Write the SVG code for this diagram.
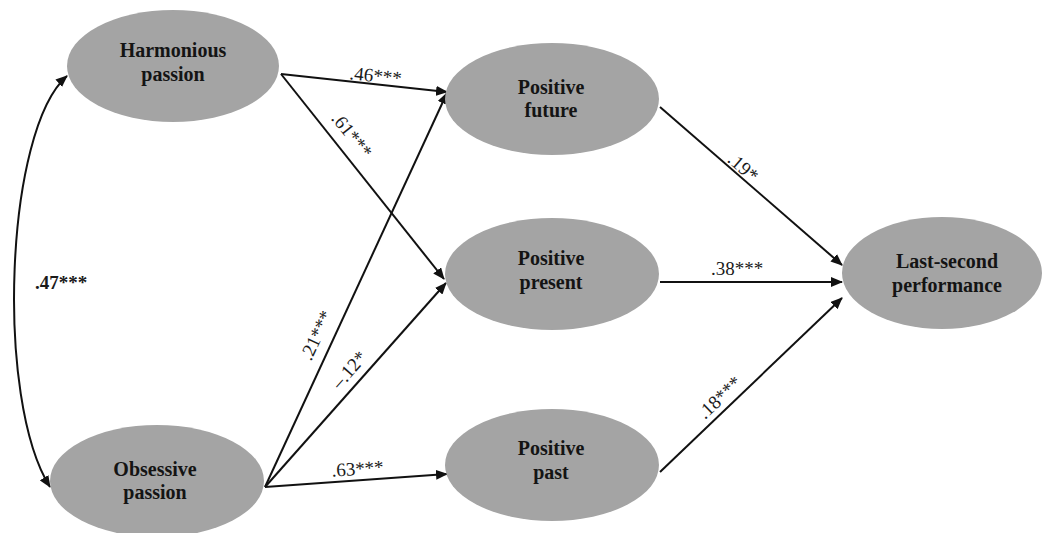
<svg xmlns="http://www.w3.org/2000/svg" width="1042" height="533" viewBox="0 0 1042 533">
<style>
.node{fill:#a4a4a4;stroke:none}
.nl{font-family:'Liberation Serif','DejaVu Serif',serif;font-weight:bold;font-size:20px;fill:#141414;text-anchor:middle}
.el{font-family:'Liberation Serif','DejaVu Serif',serif;font-size:19px;fill:#1a1a1a;text-anchor:middle}
.c{stroke:#111;stroke-width:2;fill:none;marker-end:url(#ah)}
</style>
<defs>
<marker id="ah" viewBox="0 0 12 10" refX="11" refY="5" markerWidth="12" markerHeight="10" markerUnits="userSpaceOnUse" orient="auto-start-reverse">
<path d="M0,0 L12,5 L0,10 Z" fill="#111"/>
</marker>
</defs>
<rect width="1042" height="533" fill="#fff"/>
<g id="connectors">
<path class="c" d="M67,76 C5,130 -5,400 50,487" marker-start="url(#ah)"/>
<line class="c" x1="281" y1="74" x2="447" y2="92"/>
<line class="c" x1="281" y1="74" x2="444" y2="279"/>
<line class="c" x1="265" y1="487" x2="447" y2="93"/>
<line class="c" x1="265" y1="487" x2="446" y2="283"/>
<line class="c" x1="265" y1="487" x2="447" y2="474"/>
<line class="c" x1="660" y1="107" x2="842" y2="265"/>
<line class="c" x1="660" y1="282" x2="842" y2="282"/>
<line class="c" x1="660" y1="472" x2="842" y2="298"/>
</g>
<g id="edge-labels">
<text class="el" transform="translate(375,82) rotate(6)">.46***</text>
<text class="el" transform="translate(347,139) rotate(51)">.61***</text>
<text class="el" x="61" y="289" font-weight="bold">.47***</text>
<text class="el" transform="translate(322,338) rotate(-65)">.21***</text>
<text class="el" transform="translate(354,374) rotate(-48.6)">–.12*</text>
<text class="el" transform="translate(358,475) rotate(-4)">.63***</text>
<text class="el" transform="translate(739,172) rotate(41)">.19*</text>
<text class="el" x="737" y="275">.38***</text>
<text class="el" transform="translate(724,402) rotate(-43.7)">.18***</text>
</g>
<g id="harmonious">
<ellipse class="node" cx="173" cy="66" rx="106" ry="56"/>
<text class="nl" x="173" y="57">Harmonious</text>
<text class="nl" x="173" y="81">passion</text>
</g>
<g id="obsessive">
<ellipse class="node" cx="157" cy="481" rx="107" ry="56"/>
<text class="nl" x="155" y="476">Obsessive</text>
<text class="nl" x="155" y="499">passion</text>
</g>
<g id="future">
<ellipse class="node" cx="552" cy="99" rx="107" ry="56"/>
<text class="nl" x="551" y="94">Positive</text>
<text class="nl" x="551" y="117">future</text>
</g>
<g id="present">
<ellipse class="node" cx="552" cy="274" rx="107" ry="56"/>
<text class="nl" x="551" y="265">Positive</text>
<text class="nl" x="551" y="289">present</text>
</g>
<g id="past">
<ellipse class="node" cx="552" cy="465" rx="107" ry="56"/>
<text class="nl" x="551" y="455">Positive</text>
<text class="nl" x="551" y="479">past</text>
</g>
<g id="last-second">
<ellipse class="node" cx="942" cy="273" rx="100" ry="56"/>
<text class="nl" x="947" y="268">Last-second</text>
<text class="nl" x="947" y="292">performance</text>
</g>
</svg>
